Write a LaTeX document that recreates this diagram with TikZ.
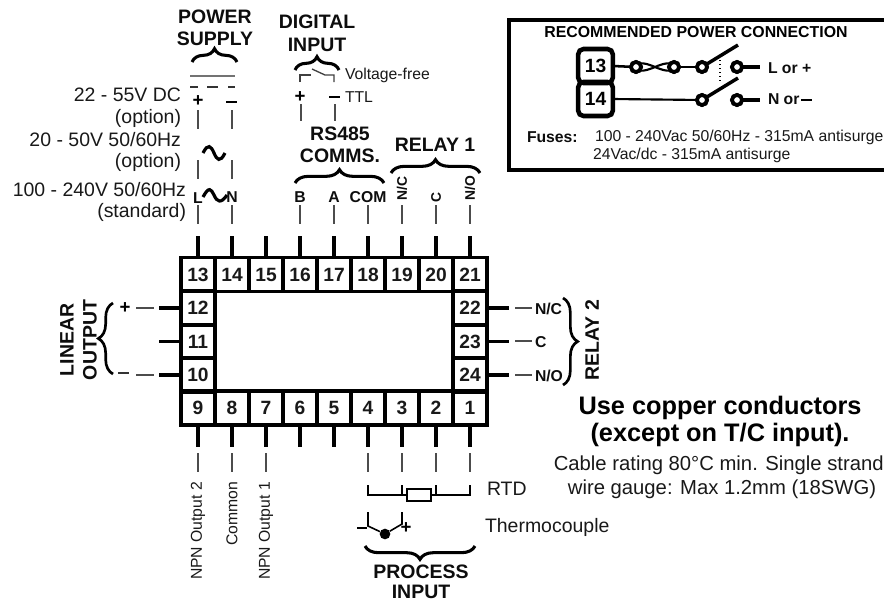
\documentclass[tikz,border=0pt]{standalone}
\usepackage{fontspec}
\setmainfont{Liberation Sans}
\usetikzlibrary{decorations.pathreplacing}
\tikzset{
 term/.style={draw,line width=2.7pt,minimum width=25.5pt,minimum height=25.5pt,inner sep=0pt,outer sep=0pt,font=\fontsize{14.4}{14.4}\selectfont\bfseries,text=black!90},
 stub/.style={line width=2.7pt},
 wire/.style={line width=.9pt,black!70},
 reg/.style={inner sep=0pt,outer sep=0pt,font=\fontsize{14.6}{14.6}\selectfont,text=black!90},
 small/.style={inner sep=0pt,outer sep=0pt,font=\fontsize{11.8}{11.8}\selectfont,text=black!90},
 title/.style={inner sep=0pt,outer sep=0pt,font=\fontsize{14.6}{14.6}\selectfont\bfseries,text=black!95},
 lab/.style={inner sep=0pt,outer sep=0pt,font=\fontsize{11.8}{11.8}\selectfont\bfseries,text=black!95},
 vlab/.style={inner sep=0pt,outer sep=0pt,rotate=90,font=\fontsize{10.4}{10.4}\selectfont\bfseries,text=black!95},
 plus/.style={inner sep=0pt,outer sep=0pt,font=\fontsize{14}{14}\selectfont\bfseries},
 bracetip/.style={decorate,decoration={brace,amplitude=10pt},line width=2.3pt},
 contact/.style={circle,draw,line width=2.8pt,minimum size=7.5pt,inner sep=0pt,outer sep=0pt,fill=white},
 rterm/.style={draw,rounded corners=4pt,line width=3.4pt,minimum width=26pt,minimum height=25.5pt,inner sep=0pt,outer sep=0pt,font=\fontsize{14.4}{14.4}\selectfont\bfseries},
}
\begin{document}
\begin{tikzpicture}[x=0.75pt,y=-0.75pt]
\useasboundingbox (0,0) rectangle (884,601);
\fill[white] (0,0) rectangle (884,601);
% terminals
\foreach \n/\x in {13/198,14/232,15/266,16/300,17/334,18/368,19/402,20/436,21/470}
  \node[term] (t\n) at (\x,274.5) {\n};
\foreach \n/\x in {9/198,8/232,7/266,6/300,5/334,4/368,3/402,2/436,1/470}
  \node[term] (t\n) at (\x,408) {\n};
\foreach \n/\y in {12/308,11/341.5,10/375}
  \node[term] (t\n) at (198,\y) {\n};
\foreach \n/\y in {22/308,23/341.5,24/375}
  \node[term] (t\n) at (470,\y) {\n};
% stubs
\foreach \n in {13,...,21} \draw[stub] (t\n.north) -- ++(0,-22);
\foreach \n in {1,...,9} \draw[stub] (t\n.south) -- ++(0,22);
\foreach \n in {10,11,12} \draw[stub] (t\n.west) -- ++(-22,0);
\foreach \n in {22,23,24} \draw[stub] (t\n.east) -- ++(22,0);
% top thin wires
\foreach \x in {198,232,300,334,368,402,436,470} \draw[wire] (\x,205) -- (\x,224);
\foreach \x in {198,232} {\draw[wire] (\x,160) -- (\x,179); \draw[wire] (\x,110) -- (\x,129);}
\foreach \x in {301,335} \draw[wire] (\x,104) -- (\x,121);
% bottom thin wires
\foreach \x in {198,232,266,368,402,436,470} \draw[wire] (\x,453) -- (\x,472);
% side thin wires
\draw[wire] (136,308) -- (154,308);
\draw[wire] (136,375) -- (154,375);
\draw[line width=1.1pt,black!80] (118,373) -- (129,373);
\foreach \y in {308,341,375} \draw[wire] (515,\y) -- (532,\y);
% power supply
\node[title] (ps1) at (215,17) {POWER};
\node[title] (ps2) at (215,39) {SUPPLY};
\draw[bracetip] (192,62) -- (237,62);
\draw[line width=2pt,black!55] (190,76) -- (235,76);
\draw[line width=1.4pt,black!80] (190,87) -- (198,87) (207,87) -- (218,87) (228,87) -- (235,87);
\node[plus] (pp) at (198,101) {+};
\draw[line width=1.1pt] (226,102) -- (237,102);
\node[reg,anchor=east] (v1) at (181,95) {22 - 55V DC};
\node[reg,anchor=east] (v2) at (181,118) {(option)};
\node[reg,anchor=east] (v3) at (181,140) {20 - 50V 50/60Hz};
\node[reg,anchor=east] (v4) at (181,162) {(option)};
\node[reg,anchor=east] (v5) at (186,190) {100 - 240V 50/60Hz};
\node[reg,anchor=east] (v6) at (186,212) {(standard)};
\draw[line width=2.4pt] (203,153) .. controls (208,143) and (211,146) .. (214,153) .. controls (217,160) and (220,163) .. (225,153);
\draw[line width=2.4pt] (203,197) .. controls (209,186) and (211,189) .. (214,195) .. controls (217,202) and (221,204) .. (227,195);
\node[lab] (pl) at (198,198) {L};
\node[lab] (pn) at (232,197) {N};
% digital input
\node[title] (di1) at (317,22) {DIGITAL};
\node[title] (di2) at (317,45) {INPUT};
\draw[bracetip] (295,70) -- (339,70);
\draw[line width=1pt,black!75] (300,82) -- (300,75) -- (311,75);
\draw[line width=1pt,black!75] (312,69) -- (325,75) -- (334,75) -- (334,82);
\node[small,anchor=west] (vf) at (345,75) {Voltage-free};
\node[plus] (dp) at (300,97) {+};
\draw[line width=1.1pt] (329,97) -- (340,97);
\node[small,anchor=west] (ttl) at (345,97) {TTL};
% RS485
\node[title] (rs1) at (340,134) {RS485};
\node[title] (rs2) at (340,156) {COMMS.};
\draw[bracetip] (295,183) -- (384,183);
\node[lab] (cb) at (300,197) {B};
\node[lab] (ca) at (334,197) {A};
\node[lab] (cc) at (368,197) {COM};
% relay 1
\node[title] (r1) at (435,145) {RELAY 1};
\draw[bracetip] (391,173) -- (480,173);
\node[vlab] (rnc) at (402,188.5) {N/C};
\node[vlab] (rc) at (436,197) {C};
\node[vlab] (rno) at (470,188.5) {N/O};
% recommended box
\draw[line width=2.6pt] (884,20) -- (509,20) -- (509,170) -- (884,170);
\node[inner sep=0pt,font=\fontsize{11.9}{11.9}\selectfont\bfseries] (rec) at (696,32) {RECOMMENDED POWER CONNECTION};
\node[rterm] (b13) at (595.5,66) {13};
\node[rterm] (b14) at (595.5,99) {14};
\node[contact] (c1) at (636,67) {};
\node[contact] (c2) at (674,67) {};
\node[contact] (c3) at (702,67) {};
\node[contact] (c4) at (737,67) {};
\node[contact] (c5) at (702,100) {};
\node[contact] (c6) at (737,100) {};
\coordinate (lv1) at (738,45);
\coordinate (lv2) at (738,78);
\coordinate (e1) at (760,67);
\coordinate (e2) at (760,100);
\draw[line width=1.9pt] (b13.east) -- (c1);
\draw[line width=1.6pt] (c1.north east) .. controls (650,62) and (660,72) .. (c2.south west);
\draw[line width=1.6pt] (c1.south east) .. controls (650,72) and (660,62) .. (c2.north west);
\draw[line width=1.6pt] (c2) -- (c3);
\draw[line width=2.6pt] (c3) -- (lv1);
\draw[line width=2.6pt] (c5) -- (lv2);
\draw[line width=1.6pt] (b14.east) -- (c5);
\draw[line width=2.4pt] (c4) -- (e1);
\draw[line width=2.4pt] (c6) -- (e2);
\node[contact] at (c1) {};
\node[contact] at (c2) {};
\node[contact] at (c3) {};
\node[contact] at (c4) {};
\node[contact] at (c5) {};
\node[contact] at (c6) {};
\draw[line width=1pt,dotted] (720,60) -- (720,82);
\node[lab,anchor=west] (ll) at (768,68) {L or +};
\node[lab,anchor=west] (nn) at (768,99) {N or};
\draw[line width=1pt] (801,100) -- (812,100);
\node[lab,anchor=west] (fu) at (527,137) {Fuses:};
\node[small,anchor=west] (f1) at (595,137) {100 - 240Vac 50/60Hz - 315mA antisurge};
\node[small,anchor=west] (f2) at (593,155) {24Vac/dc - 315mA antisurge};
% linear output
\node[title,rotate=90] (lo1) at (67,340) {LINEAR};
\node[title,rotate=90] (lo2) at (90,340) {OUTPUT};
\draw[decorate,decoration={brace,amplitude=11pt,mirror},line width=2pt] (113,303) -- (113,374);
\node[plus] (lp) at (125,308) {+};
% relay 2
\node[lab,anchor=west] (a22) at (535,309) {N/C};
\node[lab,anchor=west] (a23) at (535,342) {C};
\node[lab,anchor=west] (a24) at (535,376) {N/O};
\draw[decorate,decoration={brace,amplitude=11pt},line width=2pt] (563,298) -- (563,385);
\node[title,rotate=90] (r2) at (592,340) {RELAY 2};
% copper
\node[inner sep=0pt,font=\fontsize{19}{19}\selectfont\bfseries] (u1) at (720,408) {Use copper conductors};
\node[inner sep=0pt,font=\fontsize{19}{19}\selectfont\bfseries] (u2) at (720,435) {(except on T/C input).};
\node[inner sep=0pt,font=\fontsize{15.2}{15.2}\selectfont,text=black!90,anchor=east] (u3) at (884,465) {Cable rating 80°C min. Single strand};
\node[inner sep=0pt,font=\fontsize{15.2}{15.2}\selectfont,text=black!90] (u4) at (722,489) {wire gauge: Max 1.2mm (18SWG)};
% NPN
\node[small,rotate=90,anchor=east] (n2) at (198,482) {NPN Output 2};
\node[small,rotate=90,anchor=east] (n0) at (232,482) {Common};
\node[small,rotate=90,anchor=east] (n1) at (266,482) {NPN Output 1};
% RTD
\coordinate (ra) at (368,495);
\coordinate (rb) at (470,495);
\node[draw,line width=1.2pt,minimum width=18pt,minimum height=9pt,inner sep=0pt,fill=white] (res) at (419,495) {};
\draw[line width=1.2pt] (368,485) -- (ra) -- (res.west) (res.east) -- (rb) -- (470,485);
\draw[line width=1.2pt] (402,485) -- (402,495) (436,485) -- (436,495);
\node[reg,anchor=west] (rtd) at (487,489) {RTD};
% thermocouple
\node[circle,fill=black,inner sep=0pt,minimum size=8pt] (tc) at (385,534) {};
\draw[line width=1.2pt] (368,512) -- (368,526) -- (tc) -- (402,524) -- (402,512);
\draw[line width=1.1pt] (357,528) -- (367,528);
\node[plus] (tp) at (406,528) {+};
\node[reg,anchor=west] (th) at (485,527) {Thermocouple};
% process input
\draw[decorate,decoration={brace,amplitude=10pt,mirror},line width=2.3pt] (365,546) -- (475,546);
\node[title] (pi1) at (421,572) {PROCESS};
\node[title] (pi2) at (421,592) {INPUT};
\end{tikzpicture}
\end{document}
